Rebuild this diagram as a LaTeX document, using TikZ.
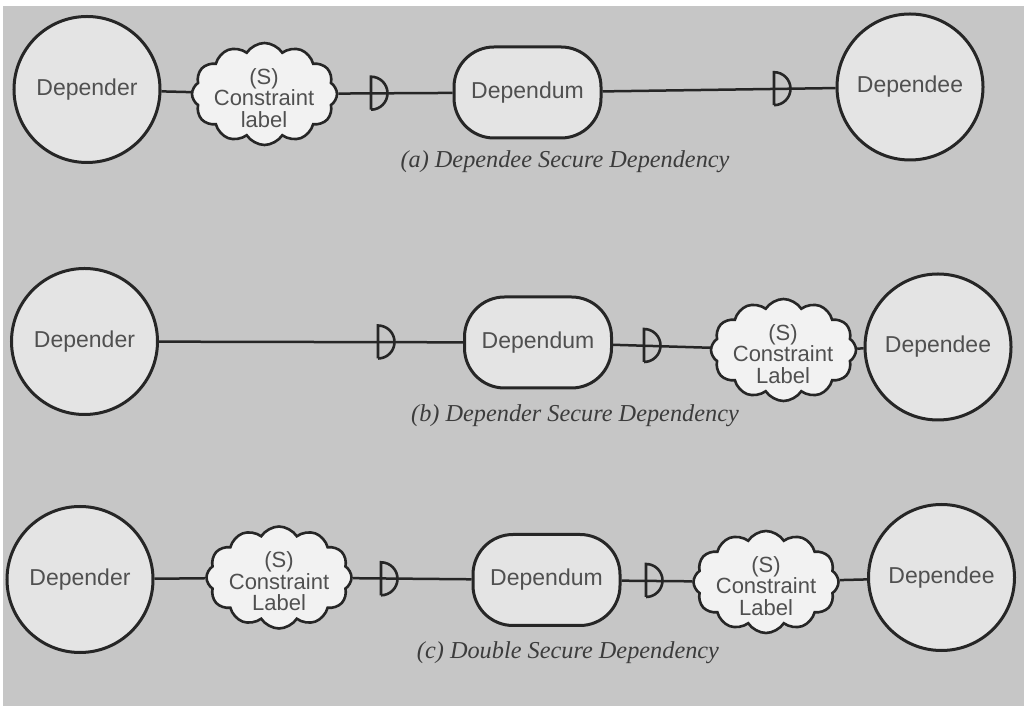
\documentclass[tikz,border=0pt]{standalone}
\usepackage{fontspec}
\setmainfont{Liberation Sans}
\newfontfamily\capfont{Liberation Serif}
\usetikzlibrary{shapes.symbols}
\definecolor{bg}{RGB}{198,198,198}
\definecolor{shapefill}{RGB}{228,228,228}
\definecolor{cloudfill}{RGB}{242,242,242}
\definecolor{ink}{RGB}{38,38,38}
\definecolor{label}{RGB}{80,80,80}
\definecolor{captext}{RGB}{60,60,60}
\tikzset{
  x=1pt, y=1pt,
  actor/.style={circle, draw=ink, line width=3pt, fill=shapefill, minimum size=146pt,
    inner sep=0pt, text=label, font=\fontsize{23}{23}\selectfont},
  dependum/.style={rectangle, draw=ink, line width=3pt, fill=shapefill, rounded corners=40pt,
    minimum width=147pt, minimum height=91pt, inner sep=0pt, text=label,
    font=\fontsize{23}{23}\selectfont},
  constraint/.style={cloud, cloud puffs=12, cloud puff arc=115, cloud ignores aspect,
    draw=ink, line width=2.6pt, fill=cloudfill, minimum width=145pt, minimum height=102pt,
    inner sep=0pt},
  constrainttext/.style={align=center, text=label, inner sep=0pt,
    font=\fontsize{22}{21.5}\selectfont},
  link/.style={draw=ink, line width=2.5pt},
  secmark/.style={draw=ink, line width=2.6pt},
  caption/.style={text=captext, font=\capfont\itshape\fontsize{24.3}{24}\selectfont}
}
% half-disk security mark: flat side at the given point, bulging to the right
\newcommand{\secsym}[1]{\draw[secmark] (#1) ++(0,-16.5) -- ++(0,33) arc (90:-90:16.5);}
\begin{document}
\begin{tikzpicture}
\useasboundingbox (0,0) rectangle (1024,706);
\fill[white] (0,0) rectangle (1024,706);
\fill[bg] (3,0) rectangle (1024,700);

% (a) dependee secure dependency
\node[actor] (dra) at (87,616.5) {Depender};
\node[constraint] (cla) at (264.5,612) {};
\node[dependum] (dma) at (527.5,613.5) {Dependum};
\node[actor] (dea) at (910,619) {Dependee};
\draw[link] (dra) -- (cla);
\draw[link] (cla) -- (dma);
\draw[link] (dma) -- (dea);
\node[constrainttext] (clta) at (264,608) {(S)\\Constraint\\label};
\coordinate (sa1) at (371,612.8);
\coordinate (sa2) at (774,617.3);
\secsym{sa1}
\secsym{sa2}
\node[caption] (capa) at (565,544) {(a) Dependee Secure Dependency};

% (b) depender secure dependency
\node[actor] (drb) at (84.5,364.5) {Depender};
\node[dependum] (dmb) at (538,363.5) {Dependum};
\node[constraint] (clb) at (783.5,356) {};
\node[actor] (deb) at (938,359) {Dependee};
\draw[link] (drb) -- (dmb);
\draw[link] (dmb) -- (clb);
\draw[link] (clb) -- (deb);
\node[constrainttext] (cltb) at (783,352) {(S)\\Constraint\\Label};
\coordinate (sb1) at (378,364);
\coordinate (sb2) at (644,360.5);
\secsym{sb1}
\secsym{sb2}
\node[caption] (capb) at (575,290) {(b) Depender Secure Dependency};

% (c) double secure dependency
\node[actor] (drc) at (80,126.5) {Depender};
\node[constraint] (clc1) at (279,128.5) {};
\node[dependum] (dmc) at (546.5,126) {Dependum};
\node[constraint] (clc2) at (766,124) {};
\node[actor] (dec) at (941.5,128.5) {Dependee};
\draw[link] (drc) -- (clc1);
\draw[link] (clc1) -- (dmc);
\draw[link] (dmc) -- (clc2);
\draw[link] (clc2) -- (dec);
\node[constrainttext] (cltc1) at (279,124.5) {(S)\\Constraint\\Label};
\node[constrainttext] (cltc2) at (766,120) {(S)\\Constraint\\Label};
\coordinate (sc1) at (381,127.2);
\coordinate (sc2) at (646,125.5);
\secsym{sc1}
\secsym{sc2}
\node[caption] (capc) at (568,53) {(c) Double Secure Dependency};
\end{tikzpicture}
\end{document}
